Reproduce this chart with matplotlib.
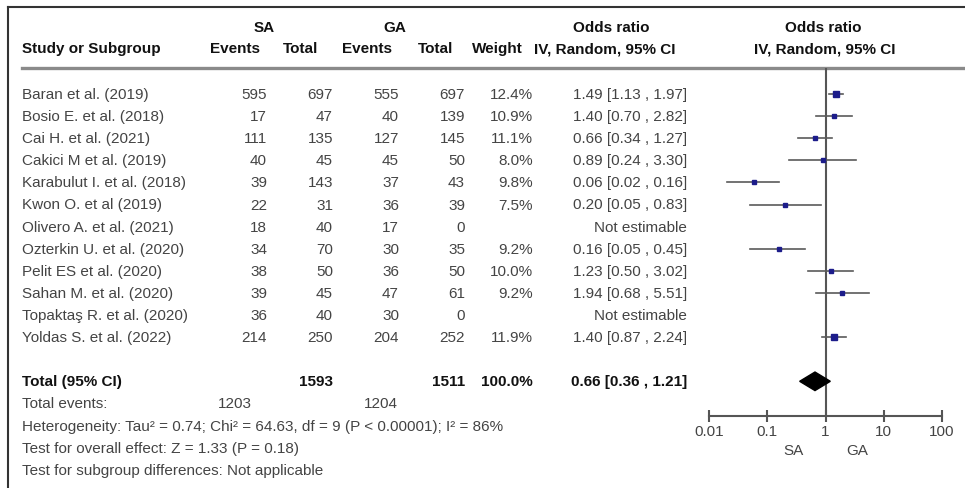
import matplotlib.pyplot as plt

plt.rcParams['font.family'] = ['Liberation Sans', 'DejaVu Sans']

# study level data (SA vs GA)
studies = ['Baran et al. (2019)', 'Bosio E. et al. (2018)', 'Cai H. et al. (2021)',
           'Cakici M et al. (2019)', 'Karabulut I. et al. (2018)', 'Kwon O. et al (2019)',
           'Olivero A. et al. (2021)', 'Ozterkin U. et al. (2020)', 'Pelit ES et al. (2020)',
           'Sahan M. et al. (2020)', 'Topaktaş R. et al. (2020)', 'Yoldas S. et al. (2022)']
sa_events = [595, 17, 111, 40, 39, 22, 18, 34, 38, 39, 36, 214]
sa_total = [697, 47, 135, 45, 143, 31, 40, 70, 50, 45, 40, 250]
ga_events = [555, 40, 127, 45, 37, 36, 17, 30, 36, 47, 30, 204]
ga_total = [697, 139, 145, 50, 43, 39, 0, 35, 50, 61, 0, 252]
weight = [12.4, 10.9, 11.1, 8.0, 9.8, 7.5, None, 9.2, 10.0, 9.2, None, 11.9]
odds = [1.49, 1.40, 0.66, 0.89, 0.06, 0.20, None, 0.16, 1.23, 1.94, None, 1.40]
ci_lo = [1.13, 0.70, 0.34, 0.24, 0.02, 0.05, None, 0.05, 0.50, 0.68, None, 0.87]
ci_hi = [1.97, 2.82, 1.27, 3.30, 0.16, 0.83, None, 0.45, 3.02, 5.51, None, 2.24]

# pooled result
tot_sa, tot_ga = 1593, 1511
tot_ev_sa, tot_ev_ga = 1203, 1204
pooled = (0.66, 0.36, 1.21)
ticks = [0.01, 0.1, 1, 10, 100]
tick_labels = ['0.01', '0.1', '1', '10', '100']

fs = 11
txt = '#444444'
dark = '#111111'

fig = plt.figure(figsize=(9.65, 4.89), dpi=100)
bg = fig.add_axes([0, 0, 1, 1])
bg.set_xlim(0, 965)
bg.set_ylim(489, 0)
bg.axis('off')


def row_y(i):
    return 95 + 22.1 * i


# frame and header rule
bg.plot([8, 8], [8, 489], color='#333333', lw=1.5)
bg.plot([8, 965], [8, 8], color='#333333', lw=1.5)
bg.plot([22, 963], [69, 69], color='#8a8a8a', lw=2.4)

# headers
hdr = dict(fontsize=fs, fontweight='bold', color=dark, va='center')
bg.text(264, 28, 'SA', ha='center', **hdr)
bg.text(395, 28, 'GA', ha='center', **hdr)
bg.text(611, 28, 'Odds ratio', ha='center', **hdr)
bg.text(823, 28, 'Odds ratio', ha='center', **hdr)
bg.text(22, 49, 'Study or Subgroup', ha='left', **hdr)
bg.text(235, 49, 'Events', ha='center', **hdr)
bg.text(301, 49, 'Total', ha='center', **hdr)
bg.text(367, 49, 'Events', ha='center', **hdr)
bg.text(436, 49, 'Total', ha='center', **hdr)
bg.text(497, 49, 'Weight', ha='center', **hdr)
bg.text(605, 49, 'IV, Random, 95% CI', ha='center', **hdr)
bg.text(825, 49, 'IV, Random, 95% CI', ha='center', **hdr)

# study rows
body = dict(fontsize=fs, color=txt, va='center')
for i, name in enumerate(studies):
    y = row_y(i)
    bg.text(22, y, name, ha='left', **body)
    bg.text(267, y, str(sa_events[i]), ha='right', **body)
    bg.text(333, y, str(sa_total[i]), ha='right', **body)
    bg.text(399, y, str(ga_events[i]), ha='right', **body)
    bg.text(465, y, str(ga_total[i]), ha='right', **body)
    if odds[i] is None:
        bg.text(687, y, 'Not estimable', ha='right', **body)
    else:
        bg.text(533, y, f'{weight[i]:.1f}%', ha='right', **body)
        bg.text(687, y, f'{odds[i]:.2f} [{ci_lo[i]:.2f} , {ci_hi[i]:.2f}]', ha='right', **body)

# total rows
y = row_y(13)
bold = dict(fontsize=fs, fontweight='bold', color=dark, va='center')
bg.text(22, y, 'Total (95% CI)', ha='left', **bold)
bg.text(333, y, str(tot_sa), ha='right', **bold)
bg.text(465, y, str(tot_ga), ha='right', **bold)
bg.text(533, y, '100.0%', ha='right', **bold)
bg.text(687, y, f'{pooled[0]:.2f} [{pooled[1]:.2f} , {pooled[2]:.2f}]', ha='right', **bold)

bg.text(22, row_y(14), 'Total events:', ha='left', **body)
bg.text(252, row_y(14), str(tot_ev_sa), ha='right', **body)
bg.text(398, row_y(14), str(tot_ev_ga), ha='right', **body)
bg.text(22, row_y(15), 'Heterogeneity: Tau² = 0.74; Chi² = 64.63, df = 9 (P < 0.00001); I² = 86%',
        ha='left', **body)
bg.text(22, row_y(16), 'Test for overall effect: Z = 1.33 (P = 0.18)', ha='left', **body)
bg.text(22, row_y(17), 'Test for subgroup differences: Not applicable', ha='left', **body)

# forest plot
x0, x1, ytop, ybot = 709, 942, 69, 417
fa = fig.add_axes([x0 / 965, 1 - ybot / 489, (x1 - x0) / 965, (ybot - ytop) / 489])
fa.patch.set_visible(False)
fa.set_xscale('log')
fa.set_xlim(0.01, 100)
fa.set_ylim((ybot - 95) / 22.1, (ytop - 95) / 22.1)
for s in ['top', 'left', 'right']:
    fa.spines[s].set_visible(False)
fa.spines['bottom'].set_color('#555555')
fa.spines['bottom'].set_linewidth(1.5)
fa.set_xticks(ticks)
fa.set_xticklabels(tick_labels)
fa.minorticks_off()
fa.tick_params(axis='x', direction='inout', length=8, width=1.5, color='#555555',
               labelsize=fs, labelcolor=txt, pad=2)
fa.set_yticks([])

fa.axvline(1, color='#555555', lw=1.5, zorder=1)

for i in range(len(studies)):
    if odds[i] is None:
        continue
    fa.plot([ci_lo[i], ci_hi[i]], [i, i], color='#5a5a5a', lw=1.2, zorder=2)
    fa.plot(odds[i], i, marker='s', ms=2.3 + 0.11 * weight[i], color='#1c1c8a',
            mec='#1c1c8a', zorder=3)

est, lo, hi = pooled
fa.fill([lo, est, hi, est], [13, 13 - 0.42, 13, 13 + 0.42], color='black', zorder=3)

fa.text(10 ** -0.55, 16.1, 'SA', ha='center', va='center', fontsize=fs, color=txt)
fa.text(10 ** 0.55, 16.1, 'GA', ha='center', va='center', fontsize=fs, color=txt)

fig.savefig('out.png', dpi=100)
